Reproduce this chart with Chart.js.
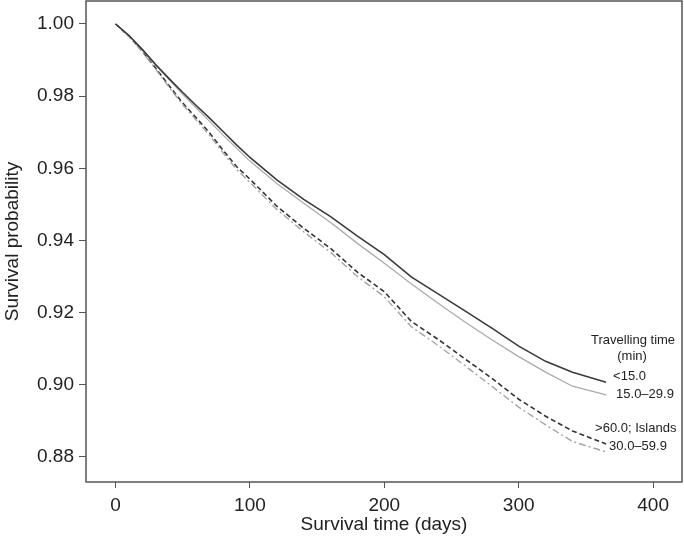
<!DOCTYPE html>
<html lang="en">
<head>
    <meta charset="UTF-8">
    <title>Survival by travelling time</title>
    <script src="https://cdn.jsdelivr.net/npm/chart.js"></script>
    <style>
        body { margin: 0; background: #fff; }
    </style>
</head>
<body>
    <canvas id="survivalChart" width="684" height="543"></canvas>

<script>
// days since start, shared by all four curves
const days = [0, 10, 20, 30, 40, 50, 60, 70, 80, 90, 100, 120, 140, 160, 180, 200, 220, 240, 260, 280, 300, 320, 340, 365];

// survival probability
const under15 = [1.0000, 0.9968, 0.9929, 0.9887, 0.9848, 0.9810, 0.9774, 0.9739, 0.9702, 0.9665, 0.9630, 0.9568,
                 0.9514, 0.9466, 0.9412, 0.9361, 0.9299, 0.9252, 0.9205, 0.9157, 0.9107, 0.9065, 0.9035, 0.9007];
const from15to30 = [1.0000, 0.9968, 0.9928, 0.9885, 0.9845, 0.9805, 0.9767, 0.9730, 0.9692, 0.9656, 0.9620, 0.9558,
                    0.9503, 0.9450, 0.9392, 0.9337, 0.9280, 0.9226, 0.9174, 0.9125, 0.9078, 0.9035, 0.8996, 0.8972];
const from30to60 = [1.0000, 0.9965, 0.9922, 0.9874, 0.9824, 0.9776, 0.9734, 0.9691, 0.9643, 0.9597, 0.9561, 0.9486,
                    0.9424, 0.9367, 0.9300, 0.9244, 0.9161, 0.9109, 0.9053, 0.8996, 0.8938, 0.8889, 0.8843, 0.8814];
const over60 = [1.0000, 0.9966, 0.9924, 0.9877, 0.9828, 0.9781, 0.9740, 0.9698, 0.9650, 0.9605, 0.9570, 0.9495,
                0.9434, 0.9378, 0.9312, 0.9258, 0.9176, 0.9126, 0.9072, 0.9018, 0.8960, 0.8913, 0.8872, 0.8836];

const groupLabels = ['<15.0', '15.0\u201329.9', '30.0\u201359.9', '>60.0; Islands'];
const legendTitle = ['Travelling time', '(min)'];
const xTicks = [0, 100, 200, 300, 400];
const yTicks = [0.88, 0.90, 0.92, 0.94, 0.96, 0.98, 1.00];

const FONT = "'Liberation Sans', Arial, sans-serif";

function toPoints(values) {
    return days.map((d, i) => ({ x: d, y: values[i] }));
}

// box around the plot area (R style)
const frame = {
    id: 'frame',
    afterDraw(chart) {
        const { ctx, chartArea: a } = chart;
        ctx.save();
        ctx.strokeStyle = '#555';
        ctx.lineWidth = 1.5;
        ctx.strokeRect(a.left, a.top, a.right - a.left, a.bottom - a.top);
        ctx.restore();
    }
};

// group names written next to where each curve ends
const endLabels = {
    id: 'endLabels',
    afterDraw(chart) {
        const { ctx } = chart;
        const xs = chart.scales.x, ys = chart.scales.y;
        const lastDay = days[days.length - 1];
        const ends = [under15, from15to30, from30to60, over60].map(v => ys.getPixelForValue(v[v.length - 1]));
        const endX = xs.getPixelForValue(lastDay);
        const shifts = [[7, -6], [10, 0], [3, -5], [-11, -16]];

        ctx.save();
        ctx.fillStyle = '#222';
        ctx.font = '13px ' + FONT;
        ctx.textBaseline = 'middle';
        ctx.textAlign = 'left';
        groupLabels.forEach((txt, i) => {
            ctx.fillText(txt, endX + shifts[i][0], ends[i] + shifts[i][1]);
        });
        ctx.textAlign = 'center';
        ctx.fillText(legendTitle[0], endX + 27, ends[0] - 42);
        ctx.fillText(legendTitle[1], endX + 26, ends[0] - 26);
        ctx.restore();
    }
};

const ctx = document.getElementById('survivalChart').getContext('2d');
new Chart(ctx, {
    type: 'line',
    data: {
        datasets: [
            { label: groupLabels[0], data: toPoints(under15), borderColor: '#3a3a3a', borderWidth: 1.6 },
            { label: groupLabels[1], data: toPoints(from15to30), borderColor: '#ababab', borderWidth: 1.3 },
            { label: groupLabels[2], data: toPoints(from30to60), borderColor: '#a4a4a4', borderWidth: 1.4, borderDash: [7, 3, 2, 3] },
            { label: groupLabels[3], data: toPoints(over60), borderColor: '#333', borderWidth: 1.6, borderDash: [5, 3] }
        ]
    },
    options: {
        responsive: false,
        animation: false,
        elements: { point: { radius: 0 }, line: { tension: 0, fill: false } },
        layout: { padding: { top: 1, right: 2, left: 0, bottom: 0 } },
        plugins: { legend: { display: false }, tooltip: { enabled: false } },
        scales: {
            x: {
                type: 'linear',
                min: -22,
                max: 421.5,
                afterBuildTicks: s => { s.ticks = xTicks.map(v => ({ value: v })); },
                afterFit: s => { s.height = 61; },
                grid: { display: true, drawOnChartArea: false, drawTicks: true, tickLength: 6, color: '#555' },
                border: { display: false },
                ticks: { color: '#222', font: { family: FONT, size: 19 }, padding: 6, maxRotation: 0 },
                title: { display: true, text: 'Survival time (days)', color: '#222', font: { family: FONT, size: 19 }, padding: { top: 0, bottom: 7 } }
            },
            y: {
                min: 0.87306,
                max: 1.00637,
                afterBuildTicks: s => { s.ticks = yTicks.map(v => ({ value: v })); },
                afterFit: s => { s.width = 86; s.paddingTop = 0; s.paddingBottom = 0; },
                grid: { display: true, drawOnChartArea: false, drawTicks: true, tickLength: 7, color: '#555' },
                border: { display: false },
                ticks: { color: '#222', font: { family: FONT, size: 19 }, padding: 5, callback: v => v.toFixed(2) },
                title: { display: true, text: 'Survival probability', color: '#222', font: { family: FONT, size: 19 }, padding: { top: 1, bottom: 0 } }
            }
        }
    },
    plugins: [frame, endLabels]
});
</script>
</body>
</html>
